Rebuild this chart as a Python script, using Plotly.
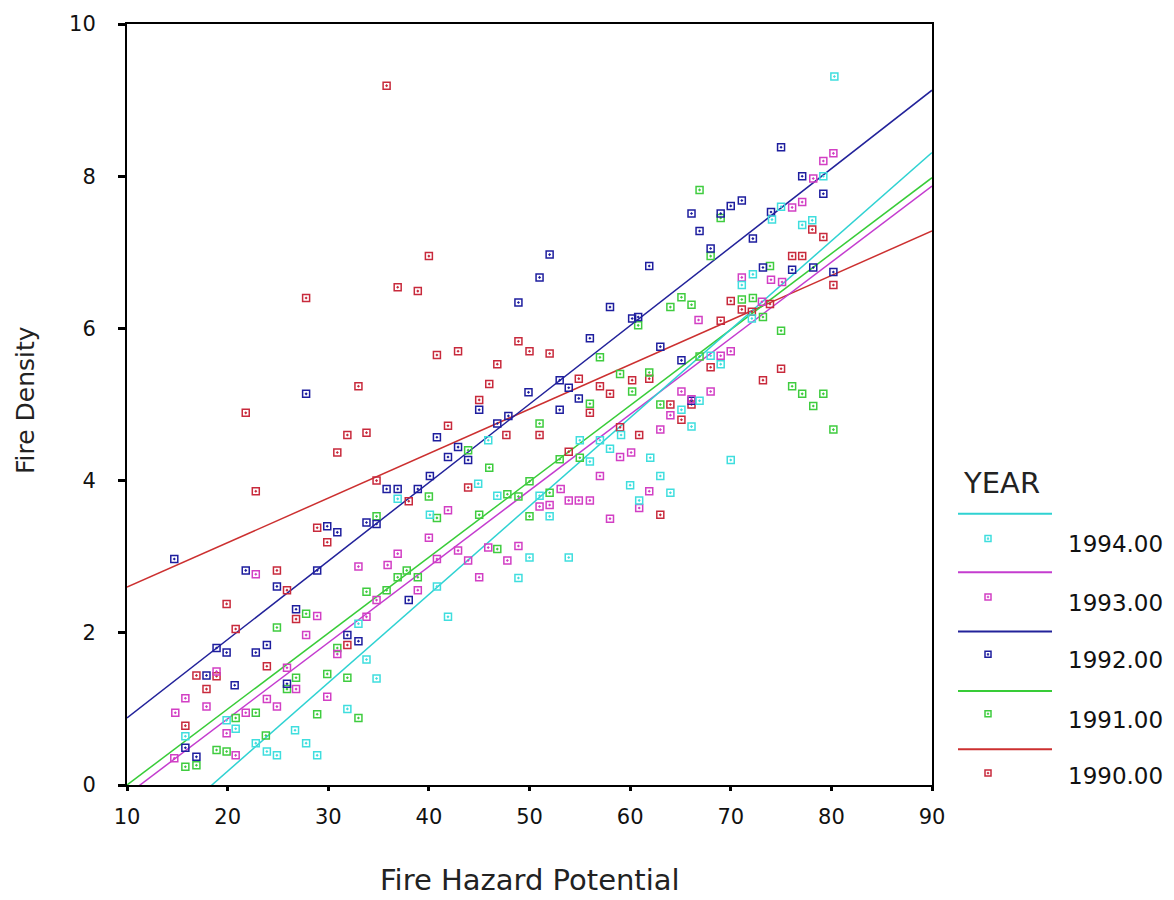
import plotly.graph_objects as go

# ---------------- data ----------------
years = ["1994.00", "1993.00", "1992.00", "1991.00", "1990.00"]

x_1990 = [35.8, 40.0, 27.8, 36.9, 38.9, 21.8, 33.0, 40.8, 42.9, 22.8, 30.9, 31.9, 33.8, 34.8, 38.0,
          48.9, 50.0, 52.0, 46.8, 46.0, 45.0, 41.9, 47.7, 51.0, 43.9, 54.9, 57.0, 58.0, 56.0, 59.0,
          60.9, 60.2, 61.9, 53.9, 63.0, 64.0, 66.1, 65.1, 69.0, 70.0, 71.1, 72.1, 73.9, 76.1, 77.1,
          78.1, 79.2, 80.2, 73.2, 75.0, 68.0, 28.9, 29.9, 24.9, 25.9, 19.9, 26.8, 20.8, 31.9, 23.9,
          16.9, 18.9, 17.9, 15.8]
y_1990 = [9.19, 6.95, 6.40, 6.54, 6.49, 4.89, 5.24, 5.65, 5.70, 3.86, 4.37, 4.60, 4.63, 4.00, 3.73,
          5.83, 5.70, 5.67, 5.53, 5.27, 5.06, 4.72, 4.60, 4.60, 3.91, 5.34, 5.24, 5.14, 4.89, 4.70,
          4.60, 5.32, 5.34, 4.38, 3.55, 5.00, 5.00, 4.80, 6.10, 6.36, 6.25, 6.22, 6.32, 6.95, 6.95,
          7.30, 7.20, 6.57, 5.32, 5.47, 5.49, 3.38, 3.19, 2.82, 2.56, 2.38, 2.18, 2.05, 1.84, 1.56,
          1.44, 1.43, 1.26, 0.78]

x_1991 = [66.9, 69.0, 68.0, 73.9, 65.1, 66.1, 64.0, 60.8, 71.1, 72.2, 73.2, 75.0, 76.1, 77.1, 79.2,
          78.2, 80.2, 66.9, 57.0, 59.0, 61.9, 60.2, 56.0, 63.0, 51.0, 43.9, 46.0, 55.0, 53.0, 40.0,
          40.8, 45.0, 47.8, 48.9, 52.0, 50.0, 46.8, 37.8, 38.9, 36.9, 34.8, 33.8, 35.8, 27.8, 24.9,
          30.9, 26.8, 29.9, 31.9, 33.0, 28.9, 22.8, 20.8, 23.8, 18.9, 19.9, 15.8, 16.9, 25.9, 50.0]
y_1991 = [7.82, 7.45, 6.95, 6.82, 6.41, 6.31, 6.28, 6.04, 6.38, 6.40, 6.15, 5.97, 5.24, 5.14, 5.14,
          4.98, 4.67, 5.63, 5.62, 5.40, 5.42, 5.17, 5.01, 5.00, 4.75, 4.40, 4.17, 4.30, 4.28, 3.79,
          3.51, 3.55, 3.82, 3.79, 3.84, 3.53, 3.10, 2.82, 2.73, 2.73, 3.53, 2.54, 2.56, 2.25, 2.07,
          1.80, 1.41, 1.46, 1.41, 0.88, 0.93, 0.95, 0.88, 0.65, 0.46, 0.44, 0.24, 0.26, 1.26, 3.99]

x_1992 = [27.8, 35.8, 36.9, 38.9, 33.8, 34.8, 30.9, 29.9, 14.7, 21.8, 28.9, 24.9, 38.0, 26.8, 23.9,
          18.9, 19.9, 22.8, 31.9, 33.0, 17.9, 20.7, 25.9, 15.8, 16.9, 40.1, 40.8, 42.9, 41.9, 43.9,
          45.0, 46.8, 47.9, 49.9, 53.0, 53.9, 54.9, 53.0, 56.0, 58.0, 60.2, 60.8, 63.0, 65.1, 48.9,
          51.0, 52.0, 61.9, 66.1, 66.9, 66.1, 68.0, 69.0, 70.0, 71.1, 72.2, 73.2, 74.0, 75.0, 76.1,
          77.1, 78.2, 79.2, 80.2]
y_1992 = [5.14, 3.89, 3.89, 3.89, 3.45, 3.43, 3.32, 3.40, 2.97, 2.82, 2.82, 2.61, 2.43, 2.31, 1.84,
          1.80, 1.74, 1.74, 1.97, 1.89, 1.44, 1.31, 1.33, 0.49, 0.37, 4.06, 4.57, 4.44, 4.31, 4.27,
          4.93, 4.75, 4.85, 5.16, 5.32, 5.22, 5.08, 4.93, 5.87, 6.28, 6.13, 6.15, 5.76, 5.58, 6.34,
          6.67, 6.97, 6.82, 5.05, 7.28, 7.51, 7.05, 7.51, 7.61, 7.68, 7.18, 6.80, 7.53, 8.38, 6.77,
          8.00, 6.80, 7.77, 6.74]

x_1993 = [80.2, 79.2, 78.2, 76.1, 77.1, 71.1, 74.0, 75.1, 73.1, 66.8, 69.0, 70.0, 65.1, 68.0, 66.1,
          64.0, 63.0, 60.1, 59.0, 57.0, 61.9, 60.9, 58.0, 53.1, 53.9, 54.9, 56.0, 51.0, 52.0, 41.9,
          40.0, 42.9, 45.9, 48.9, 43.9, 47.8, 40.8, 45.0, 38.9, 36.9, 33.0, 35.9, 22.8, 34.8, 28.9,
          33.8, 27.8, 30.9, 25.9, 18.9, 15.8, 17.9, 14.8, 23.9, 24.9, 26.8, 29.9, 19.9, 20.8, 14.7,
          21.8]
y_1993 = [8.30, 8.20, 7.97, 7.59, 7.66, 6.67, 6.64, 6.61, 6.35, 6.11, 5.64, 5.70, 5.17, 5.17, 5.07,
          4.86, 4.67, 4.37, 4.31, 4.06, 3.86, 3.64, 3.50, 3.89, 3.74, 3.74, 3.74, 3.66, 3.68, 3.61,
          3.25, 3.08, 3.12, 3.14, 2.95, 2.95, 2.97, 2.73, 2.56, 3.04, 2.87, 2.89, 2.77, 2.43, 2.22,
          2.21, 1.97, 1.72, 1.54, 1.49, 1.14, 1.03, 0.95, 1.13, 1.03, 1.26, 1.16, 0.68, 0.39, 0.35,
          0.95]

x_1994 = [80.3, 79.2, 75.0, 74.1, 77.1, 78.1, 72.2, 71.1, 72.1, 68.0, 69.0, 66.9, 65.1, 66.1, 70.0,
          62.0, 63.0, 64.0, 60.0, 60.9, 59.1, 58.0, 56.0, 55.0, 57.0, 45.9, 44.9, 46.8, 51.0, 52.0,
          50.0, 53.9, 48.9, 40.1, 40.8, 41.9, 36.9, 33.0, 33.8, 34.8, 31.9, 19.9, 20.8, 15.8, 26.7,
          22.8, 27.8, 23.9, 24.9, 28.9]
y_1994 = [9.31, 8.00, 7.60, 7.43, 7.36, 7.42, 6.71, 6.57, 6.13, 5.64, 5.53, 5.05, 4.93, 4.71, 4.27,
          4.30, 4.06, 3.84, 3.94, 3.74, 4.60, 4.42, 4.25, 4.53, 4.53, 4.53, 3.96, 3.80, 3.80, 3.53,
          2.99, 2.99, 2.72, 3.55, 2.61, 2.21, 3.76, 2.12, 1.65, 1.40, 1.00, 0.85, 0.74, 0.64, 0.72,
          0.55, 0.55, 0.44, 0.39, 0.39]

# fitted regression lines (read at the two ends of the x axis)
fit_x = [10, 90]
fit_1994 = [-0.98, 8.31]
fit_1993 = [-0.13, 7.87]
fit_1992 = [0.88, 9.13]
fit_1991 = [0.00, 7.98]
fit_1990 = [2.60, 7.28]

x_ticks = [10, 20, 30, 40, 50, 60, 70, 80, 90]
y_ticks = [0, 2, 4, 6, 8, 10]

# ---------------- styling ----------------
W, H = 1174, 900
L, R, T, B = 127, 932, 16, 785
FONT = "DejaVu Sans"

series = [
    ("1994.00", x_1994, y_1994, fit_1994, "#3fdede", "#2fd2d2"),
    ("1993.00", x_1993, y_1993, fit_1993, "#d23fc4", "#c43ccf"),
    ("1992.00", x_1992, y_1992, fit_1992, "#1e1e9e", "#22229a"),
    ("1991.00", x_1991, y_1991, fit_1991, "#3fcc3f", "#38cc38"),
    ("1990.00", x_1990, y_1990, fit_1990, "#c82a3c", "#cc3030"),
]

fig = go.Figure()
for name, xs, ys, fit, mcol, lcol in reversed(series):
    fig.add_trace(go.Scatter(x=fit_x, y=fit, mode="lines",
                             line=dict(color=lcol, width=1.5), showlegend=False,
                             hoverinfo="skip"))
for name, xs, ys, fit, mcol, lcol in reversed(series):
    fig.add_trace(go.Scatter(x=xs, y=ys, mode="markers", name=name,
                             marker=dict(symbol="square-open-dot", size=7, color=mcol,
                                         line=dict(color=mcol, width=1.5)),
                             showlegend=False))


def px_x(p):
    return (p - L) / (R - L)


def px_y(p):
    return (B - p) / (B - T)


shapes = []
annotations = []

# legend drawn by hand, as in the original
annotations.append(dict(text="YEAR", xref="paper", yref="paper", x=px_x(961), y=px_y(480),
                        xanchor="left", yanchor="middle", showarrow=False,
                        font=dict(family=FONT, size=29, color="#222")))
line_rows = [511, 570, 630, 690, 749]
mark_rows = [536, 595, 653, 713, 773]
label_rows = [541, 601, 659, 719, 776]
for i, (name, xs, ys, fit, mcol, lcol) in enumerate(series):
    shapes.append(dict(type="line", xref="paper", yref="paper",
                       x0=px_x(958), x1=px_x(1052), y0=px_y(line_rows[i]), y1=px_y(line_rows[i]),
                       line=dict(color=lcol, width=2)))
    shapes.append(dict(type="rect", xref="paper", yref="paper",
                       xsizemode="pixel", ysizemode="pixel",
                       xanchor=px_x(988), yanchor=px_y(mark_rows[i]),
                       x0=-3, x1=3, y0=-3, y1=3,
                       line=dict(color=mcol, width=1.5)))
    shapes.append(dict(type="rect", xref="paper", yref="paper",
                       xsizemode="pixel", ysizemode="pixel",
                       xanchor=px_x(988), yanchor=px_y(mark_rows[i]),
                       x0=-0.8, x1=0.8, y0=-0.8, y1=0.8,
                       fillcolor=mcol, line=dict(color=mcol, width=0.5)))
    annotations.append(dict(text=name, xref="paper", yref="paper",
                            x=px_x(1066), y=px_y(label_rows[i]),
                            xanchor="left", yanchor="middle", showarrow=False,
                            font=dict(family=FONT, size=23, color="#111")))

# axis titles
annotations.append(dict(text="Fire Hazard Potential", xref="paper", yref="paper",
                        x=0.5, y=px_y(881), xanchor="center", yanchor="middle",
                        showarrow=False, font=dict(family=FONT, size=29, color="#222")))
annotations.append(dict(text="Fire Density", xref="paper", yref="paper",
                        x=px_x(25), y=px_y(396), xanchor="center", yanchor="middle",
                        textangle=-90, showarrow=False,
                        font=dict(family=FONT, size=25, color="#222")))

fig.update_layout(
    width=W, height=H,
    margin=dict(l=L, r=W - R, t=T, b=H - B, pad=0),
    paper_bgcolor="white", plot_bgcolor="white",
    showlegend=False,
    shapes=shapes, annotations=annotations,
    font=dict(family=FONT, color="#111"),
)
fig.update_xaxes(range=[10, 90], tickvals=x_ticks, ticktext=[str(v) for v in x_ticks],
                 showline=True, linecolor="black", linewidth=2, mirror=True,
                 ticks="outside", ticklen=4, tickwidth=3, tickcolor="black",
                 showgrid=False, zeroline=False, ticklabelstandoff=8,
                 tickfont=dict(family=FONT, size=21, color="#111"))
fig.update_yaxes(range=[0, 10], tickvals=y_ticks, ticktext=[str(v) for v in y_ticks],
                 showline=True, linecolor="black", linewidth=2, mirror=True,
                 ticks="outside", ticklen=7, tickwidth=3, tickcolor="black",
                 showgrid=False, zeroline=False, ticklabelstandoff=18,
                 tickfont=dict(family=FONT, size=21, color="#111"))

fig.write_html("out.html", config={"displayModeBar": False},
               post_script="document.body.style.margin='0';document.body.style.overflow='hidden';")
